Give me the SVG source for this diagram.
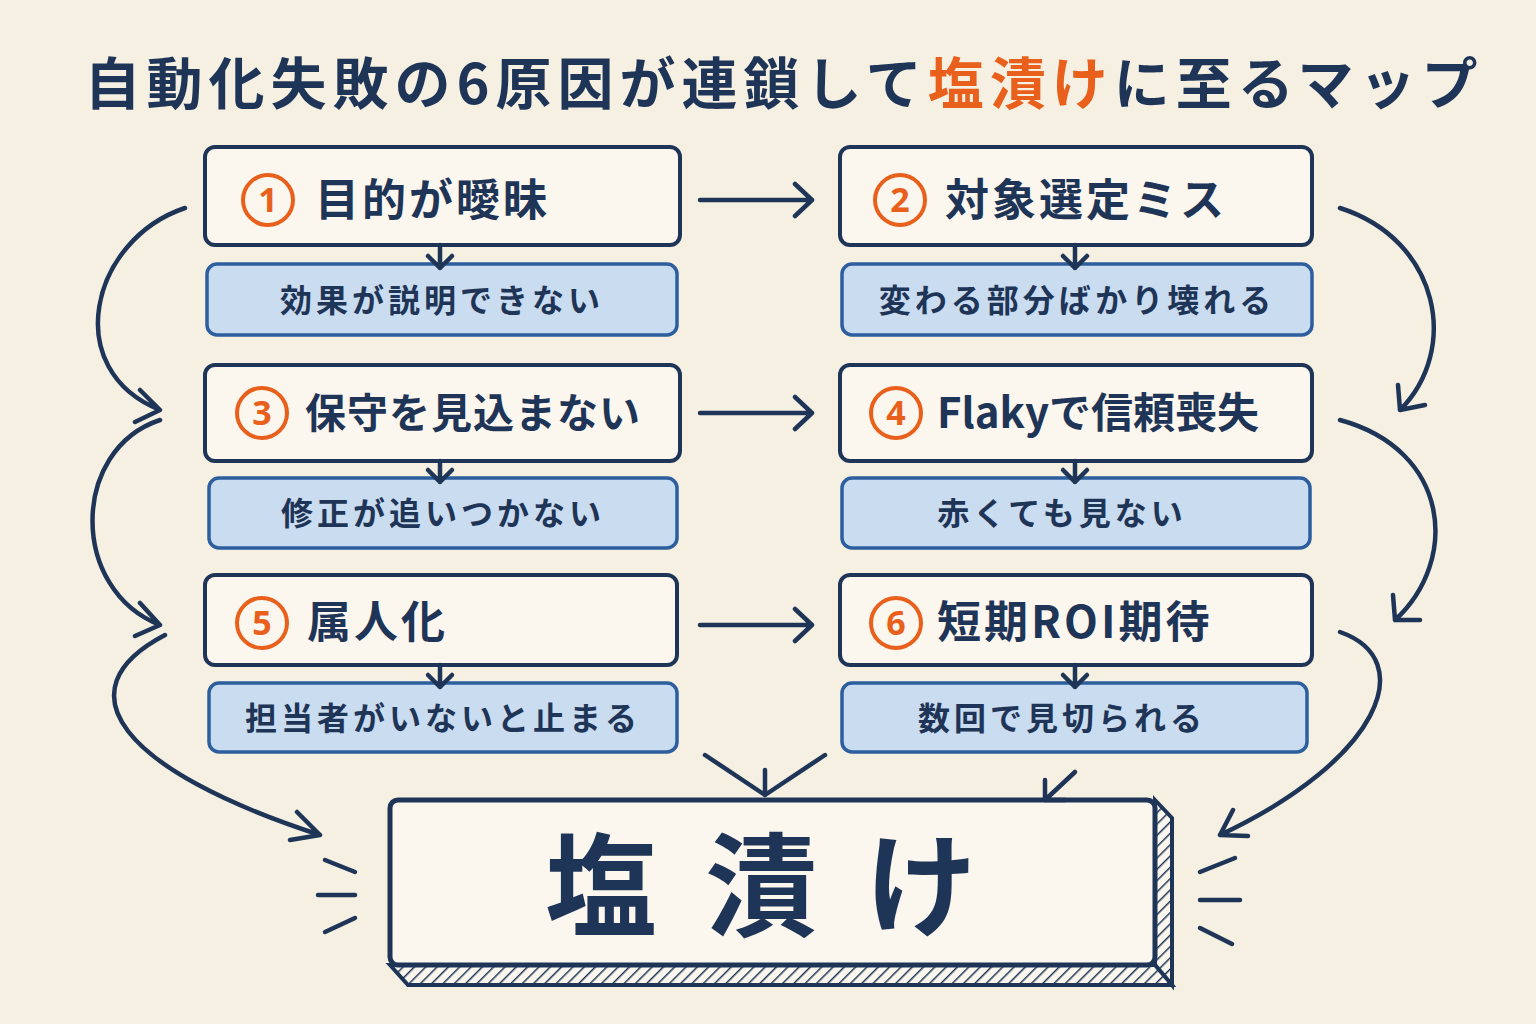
<svg xmlns="http://www.w3.org/2000/svg" width="1536" height="1024" viewBox="0 0 1536 1024">
<defs>
<style>
.t{font-family:"Noto Sans CJK JP","Noto Sans",sans-serif;font-weight:700;fill:#1f3557}
.h{fill:#fbf7ee;stroke:#1f3557;stroke-width:4}
.s{fill:#c9dcf0;stroke:#2d5e9e;stroke-width:3.5}
.c{fill:none;stroke:#1f3557;stroke-width:4.5;stroke-linecap:round;stroke-linejoin:round}
.n{fill:none;stroke:#e8601c;stroke-width:4}
.nt{font-family:"Noto Sans",sans-serif;font-weight:700;fill:#e8601c;font-size:34px}
.hl{font-size:44px;letter-spacing:3px}
.sl{font-size:32px;letter-spacing:4px}
</style>
<pattern id="hat" width="8" height="8" patternUnits="userSpaceOnUse" patternTransform="rotate(45)"><rect width="8" height="8" fill="#fbf7ee"/><line x1="0" y1="0" x2="0" y2="8" stroke="#1f3557" stroke-width="3"/></pattern>
</defs>
<rect width="1536" height="1024" fill="#f6f0e3"/>
<text class="t" x="784" y="104" text-anchor="middle" font-size="56" letter-spacing="6">自動化失敗の6原因が連鎖して<tspan fill="#e8601c">塩漬け</tspan>に至るマップ</text>

<g id="n1"><rect class="h" x="205" y="147" width="475" height="98" rx="10"/><circle class="n" cx="268" cy="200" r="25"/><text class="nt" x="268" y="212" text-anchor="middle">1</text><text class="t hl" x="315" y="216">目的が曖昧</text>
<rect class="s" x="207" y="264" width="470" height="71" rx="10"/><text class="t sl" x="442" y="312" text-anchor="middle">効果が説明できない</text></g>
<g id="n2"><rect class="h" x="840" y="147" width="472" height="98" rx="10"/><circle class="n" cx="900" cy="200" r="25"/><text class="nt" x="900" y="212" text-anchor="middle">2</text><text class="t hl" x="945" y="216">対象選定ミス</text>
<rect class="s" x="842" y="264" width="470" height="71" rx="10"/><text class="t sl" x="1077" y="312" text-anchor="middle">変わる部分ばかり壊れる</text></g>
<g id="n3"><rect class="h" x="205" y="365" width="475" height="96" rx="10"/><circle class="n" cx="262" cy="413" r="25"/><text class="nt" x="262" y="425" text-anchor="middle">3</text><text class="t" x="305" y="428" font-size="41" letter-spacing="1">保守を見込まない</text>
<rect class="s" x="209" y="478" width="468" height="70" rx="10"/><text class="t sl" x="443" y="525" text-anchor="middle">修正が追いつかない</text></g>
<g id="n4"><rect class="h" x="840" y="365" width="472" height="96" rx="10"/><circle class="n" cx="896" cy="413" r="25"/><text class="nt" x="896" y="425" text-anchor="middle">4</text><text class="t" x="937" y="428" font-size="42">Flakyで信頼喪失</text>
<rect class="s" x="842" y="478" width="468" height="70" rx="10"/><text class="t sl" x="1062" y="525" text-anchor="middle">赤くても見ない</text></g>
<g id="n5"><rect class="h" x="205" y="575" width="472" height="90" rx="10"/><circle class="n" cx="262" cy="623" r="25"/><text class="nt" x="262" y="635" text-anchor="middle">5</text><text class="t hl" x="307" y="638">属人化</text>
<rect class="s" x="209" y="683" width="468" height="69" rx="10"/><text class="t sl" x="443" y="730" text-anchor="middle">担当者がいないと止まる</text></g>
<g id="n6"><rect class="h" x="840" y="575" width="472" height="90" rx="10"/><circle class="n" cx="896" cy="623" r="25"/><text class="nt" x="896" y="635" text-anchor="middle">6</text><text class="t hl" x="937" y="638">短期ROI期待</text>
<rect class="s" x="842" y="683" width="465" height="69" rx="10"/><text class="t sl" x="1062" y="730" text-anchor="middle">数回で見切られる</text></g>

<g id="end"><path d="M1155,800 L1172,818 L1172,985 L1155,965 Z" fill="url(#hat)" stroke="#1f3557" stroke-width="4"/><path d="M390,965 L408,985 L1172,985 L1155,965 Z" fill="url(#hat)" stroke="#1f3557" stroke-width="4"/>
<rect x="390" y="800" width="765" height="165" rx="8" fill="#fbf7ee" stroke="#1f3557" stroke-width="5"/>
<text class="t" x="785" y="928" text-anchor="middle" font-size="112" letter-spacing="48">塩漬け</text></g>

<g id="connectors" class="c">
<path d="M440,245 V268 M428,256 L440,268 L452,256"/>
<path d="M1075,245 V268 M1063,256 L1075,268 L1087,256"/>
<path d="M440,461 V482 M428,470 L440,482 L452,470"/>
<path d="M1075,461 V482 M1063,470 L1075,482 L1087,470"/>
<path d="M440,665 V687 M428,675 L440,687 L452,675"/>
<path d="M1075,665 V687 M1063,675 L1075,687 L1087,675"/>
<path d="M700,200 H812 M795,184 L812,200 L795,216"/>
<path d="M700,413 H812 M795,397 L812,413 L795,429"/>
<path d="M700,625 H812 M795,609 L812,625 L795,641"/>
<path d="M185,208 C90,240 60,370 160,410 M140,390 L160,410 L135,422"/>
<path d="M160,420 C70,450 70,590 160,625 M140,603 L160,625 L135,636"/>
<path d="M165,635 C60,690 120,770 320,835 M297,812 L320,835 L290,840"/>
<path d="M1340,208 C1440,240 1460,350 1400,410 M1398,385 L1400,410 L1425,405"/>
<path d="M1340,420 C1450,450 1460,560 1395,620 M1393,595 L1395,620 L1420,620"/>
<path d="M1340,632 C1420,660 1380,760 1220,835 M1233,810 L1220,835 L1248,836"/>
<path d="M705,755 L765,795 M825,755 L765,795 M765,770 V795"/>
<path d="M1075,772 L1045,800 M1045,780 V800 H1065"/>
<path d="M325,860 L355,872 M318,895 H355 M325,932 L355,918"/>
<path d="M1200,872 L1235,858 M1200,900 H1240 M1200,928 L1232,944"/>
</g>
</svg>
